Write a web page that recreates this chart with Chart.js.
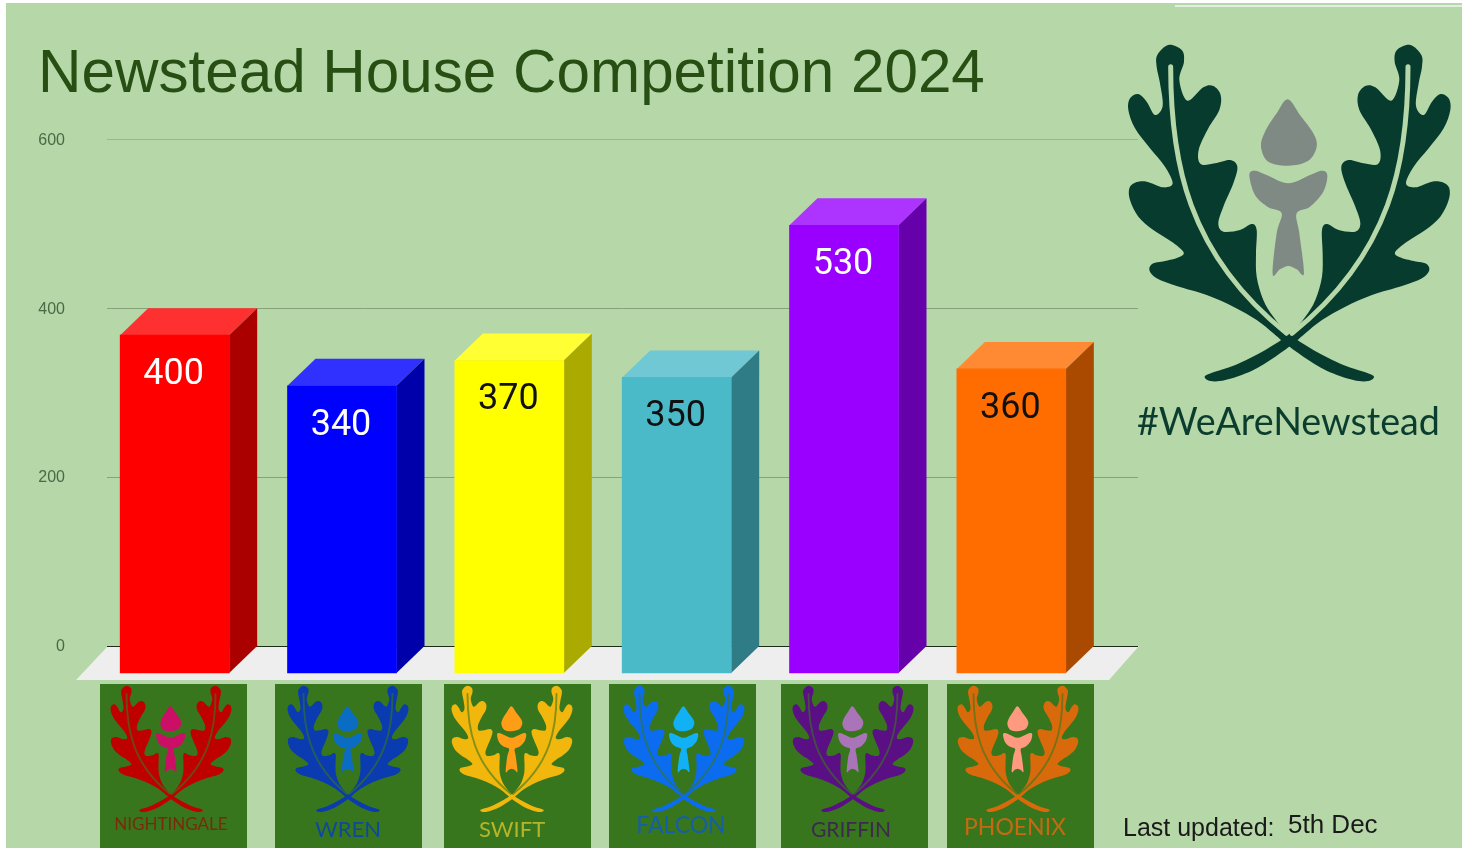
<!DOCTYPE html>
<html>
<head>
<meta charset="utf-8">
<title>Newstead House Competition 2024</title>
<script src="https://cdn.jsdelivr.net/npm/chart.js@4"></script>
<style>
    html, body { margin: 0; padding: 0; background: #fff; overflow: hidden; }
    #sheet { position: absolute; left: 6px; top: 3px; width: 1456px; height: 845px; background: #b6d7a8; }
    #topline { position: absolute; left: 1175px; top: 5px; width: 287px; height: 2px; background: #e4ebe0; }
    canvas { position: absolute; left: 0; top: 0; }
</style>
</head>
<body>
<div id="sheet"></div>
<div id="topline"></div>
<canvas id="houses" width="1468" height="848"></canvas>
<script>
// data
const categories = ['NIGHTINGALE', 'WREN', 'SWIFT', 'FALCON', 'GRIFFIN', 'PHOENIX'];
const points = [400, 340, 370, 350, 530, 360];
const tickValues = [0, 200, 400, 600];

// bar faces
const frontColors = ['#ff0000', '#0000ff', '#ffff00', '#4bbac8', '#9900ff', '#ff6d01'];
const topColors   = ['#ff3030', '#3030ff', '#ffff33', '#6fc8d3', '#ad33ff', '#ff8a33'];
const sideColors  = ['#aa0000', '#0000aa', '#aaaa00', '#2f7c86', '#6600aa', '#aa4900'];
const valueColors = ['#ffffff', '#ffffff', '#111111', '#111111', '#ffffff', '#111111'];

// house crests under the bars
const leafColors  = ['#bf0000', '#0a3bb0', '#f1b70c', '#0b6cf0', '#5a0f84', '#d96a0b'];
const acornColors = ['#cc0f66', '#0b6cc4', '#ff9e16', '#12b0f5', '#a974b8', '#ff9a80'];
const nameColors  = ['#7a2a0a', '#0d4a9a', '#b6b52a', '#155fa8', '#3d2a4d', '#c56a12'];
const nameSizes   = [17, 22, 22, 23, 21, 23];
const nameX       = [171, 348, 512, 681, 851, 1015];
const nameY       = [825, 830, 830, 826, 830, 828];
const panelLeft   = [100, 275, 444, 609, 781, 947];
const crestCenter = [171, 348, 512, 684, 853, 1018];

const DX = 14, DY = 27, DEPTH_X = 28;

// crest outlines, in units of the big logo (centre line at x=568)
const leafOutline = [[205,135],[245,150],[252,185],[238,240],[262,302],[310,262],[340,258],[362,285],[358,330],[325,385],[296,450],[302,492],[345,490],[390,480],[412,500],[400,550],[370,620],[355,670],[370,695],[420,690],[455,672],[470,690],[468,760],[470,830],[490,900],[520,950],[565,1000],[640,1050],[730,1095],[800,1118],[822,1130],[805,1143],[760,1140],[680,1112],[610,1070],[555,1030],[520,1000],[470,960],[400,920],[320,885],[230,858],[170,835],[148,810],[160,790],[200,782],[240,770],[250,755],[215,725],[160,690],[115,650],[90,600],[88,565],[105,548],[140,545],[190,562],[218,550],[195,500],[150,445],[105,385],[85,330],[90,295],[115,282],[140,305],[165,345],[188,318],[180,250],[170,200],[172,165]];
const acornTop = [[563,298],[600,345],[640,400],[650,440],[625,482],[565,497],[505,485],[483,440],[495,395],[530,340]];
const acornCup = [[448,525],[465,512],[500,525],[565,550],[630,525],[665,512],[682,525],[670,575],[630,620],[590,640],[598,700],[612,820],[590,808],[565,798],[540,808],[518,822],[530,700],[545,640],[505,622],[465,585]];

// closed curve through the traced points
function curvePath(pts) {
    const p = new Path2D();
    const n = pts.length;
    p.moveTo(pts[0][0], pts[0][1]);
    for (let i = 0; i < n; i++) {
        const a = pts[(i + n - 1) % n], b = pts[i], c = pts[(i + 1) % n], d = pts[(i + 2) % n];
        p.bezierCurveTo(
            b[0] + (c[0] - a[0]) / 6, b[1] + (c[1] - a[1]) / 6,
            c[0] - (d[0] - b[0]) / 6, c[1] - (d[1] - b[1]) / 6,
            c[0], c[1]);
    }
    p.closePath();
    return p;
}
const leafPath = curvePath(leafOutline);
const acornTopPath = curvePath(acornTop);
const acornCupPath = curvePath(acornCup);
const ribPath = new Path2D('M212 200 C212 480 260 760 560 1000');

function drawCrest(ctx, ox, oy, sx, sy, leaf, acorn, rib) {
    ctx.save();
    ctx.translate(ox, oy);
    ctx.scale(sx, sy);
    [false, true].forEach(flip => {
        ctx.save();
        if (flip) { ctx.translate(1136, 0); ctx.scale(-1, 1); }
        ctx.fillStyle = leaf;
        ctx.fill(leafPath);
        ctx.strokeStyle = rib;
        ctx.lineWidth = 15;
        ctx.lineCap = 'round';
        ctx.stroke(ribPath);
        ctx.restore();
    });
    ctx.fillStyle = acorn;
    ctx.fill(acornTopPath);
    ctx.fill(acornCupPath);
    ctx.restore();
}

// floor and grid go under the bars
const floorPlugin = {
    id: 'floor',
    beforeDatasetsDraw(chart) {
        const { ctx, scales: { y } } = chart;
        const base = y.getPixelForValue(0);
        ctx.save();
        ctx.fillStyle = '#eeeeee';
        ctx.beginPath();
        ctx.moveTo(108, base);
        ctx.lineTo(1139, base);
        ctx.lineTo(1109, base + 34);
        ctx.lineTo(76, base + 34);
        ctx.closePath();
        ctx.fill();
        tickValues.forEach(v => {
            const py = Math.round(y.getPixelForValue(v)) + 0.5;
            ctx.strokeStyle = v === 0 ? '#1c2c16' : (v === 600 ? '#9ab68d' : '#86a279');
            ctx.lineWidth = 1;
            ctx.beginPath();
            ctx.moveTo(107, py);
            ctx.lineTo(1138, py);
            ctx.stroke();
        });
        ctx.restore();
    }
};

// library draws the front face, shifted; top and side are added around it
const depthPlugin = {
    id: 'depth',
    beforeDatasetDraw(chart, args) {
        const { ctx } = chart;
        const bars = chart.getDatasetMeta(args.index).data;
        ctx.save();
        bars.forEach((b, i) => {
            const l = b.x - b.width / 2 - DX, r = b.x + b.width / 2 - DX;
            const top = b.y + DY, bottom = b.base + DY;
            ctx.fillStyle = topColors[i];
            ctx.beginPath();
            ctx.moveTo(l, top);
            ctx.lineTo(l + DEPTH_X, b.y);
            ctx.lineTo(r + DEPTH_X, b.y);
            ctx.lineTo(r, top);
            ctx.closePath();
            ctx.fill();
            ctx.fillStyle = sideColors[i];
            ctx.beginPath();
            ctx.moveTo(r, top);
            ctx.lineTo(r + DEPTH_X, b.y);
            ctx.lineTo(r + DEPTH_X, b.base);
            ctx.lineTo(r, bottom);
            ctx.closePath();
            ctx.fill();
        });
        ctx.translate(-DX, DY);
    },
    afterDatasetDraw(chart) {
        chart.ctx.restore();
    }
};

const extrasPlugin = {
    id: 'extras',
    afterDraw(chart) {
        const { ctx } = chart;
        const bars = chart.getDatasetMeta(0).data;
        ctx.save();
        ctx.textAlign = 'center';
        ctx.textBaseline = 'middle';

        // values on the bars
        ctx.font = '36px Roboto';
        bars.forEach((b, i) => {
            ctx.fillStyle = valueColors[i];
            ctx.fillText(String(points[i]), b.x - DX - 1, b.y + DY + 40);
        });

        // house panels
        categories.forEach((name, i) => {
            ctx.fillStyle = '#38761d';
            ctx.fillRect(panelLeft[i], 684, 147, 164);
            drawCrest(ctx, crestCenter[i] - 71, 669, 0.125, 0.125, leafColors[i], acornColors[i], 'rgba(56,118,29,0.6)');
            ctx.fillStyle = nameColors[i];
            ctx.font = nameSizes[i] + 'px Lato';
            ctx.fillText(name, nameX[i], nameY[i]);
        });

        // school logo
        drawCrest(ctx, 1100, 0, 1 / 3, 1 / 3, '#063b2e', '#7f8a85', '#b6d7a8');
        ctx.textAlign = 'left';
        ctx.fillStyle = '#0b3d2f';
        ctx.font = '37.7px Lato';
        ctx.fillText('#WeAreNewstead', 1137, 423);

        ctx.fillStyle = '#1a1a1a';
        ctx.font = '25px "Liberation Sans"';
        ctx.fillText('Last updated:', 1123, 829);
        ctx.font = '26px "Liberation Sans"';
        ctx.fillText('5th Dec', 1288, 826);
        ctx.restore();
    }
};

new Chart(document.getElementById('houses'), {
    type: 'bar',
    plugins: [floorPlugin, depthPlugin, extrasPlugin],
    data: {
        labels: categories,
        datasets: [{
            data: points,
            backgroundColor: frontColors,
            barThickness: 109,
            clip: false
        }]
    },
    options: {
        responsive: false,
        animation: false,
        layout: { padding: { left: 38, right: 359, top: 0, bottom: 202 } },
        plugins: {
            legend: { display: false },
            tooltip: { enabled: false },
            title: {
                display: true,
                text: 'Newstead House Competition 2024',
                align: 'start',
                color: '#274e13',
                font: { family: '"Liberation Sans"', size: 60.2, weight: 'normal', lineHeight: 1.2 },
                padding: { top: 39, bottom: 28 }
            }
        },
        scales: {
            x: { display: false },
            y: {
                min: 0,
                max: 600,
                afterBuildTicks(s) { s.ticks = tickValues.map(v => ({ value: v })); },
                afterFit(s) { s.width = 67; },
                grid: { display: false },
                border: { display: false },
                ticks: { color: '#4a6a46', padding: 32, labelOffset: 1, font: { family: '"Liberation Sans"', size: 16 } }
            }
        }
    }
});
</script>
</body>
</html>
